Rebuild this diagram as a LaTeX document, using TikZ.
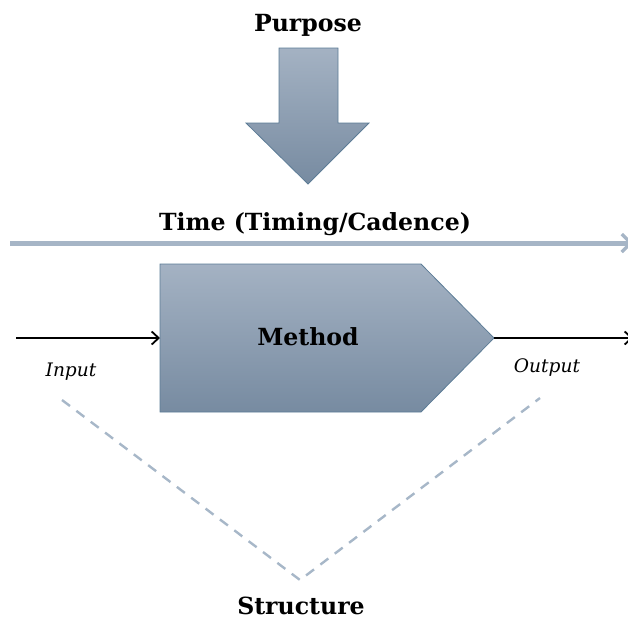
\documentclass[tikz,border=0pt]{standalone}
\usepackage{fontspec}
\setmainfont{DejaVu Serif}
\usetikzlibrary{arrows.meta}
\definecolor{steeltop}{HTML}{A4B2C3}
\definecolor{steelbot}{HTML}{778BA1}
\definecolor{steeledge}{HTML}{5C7C96}
\definecolor{timeline}{HTML}{A6B5C6}
\definecolor{dashline}{HTML}{A7B7C8}
\tikzset{
  x=1pt, y=-1pt,
  title/.style={font=\bfseries\fontsize{23.6}{28}\selectfont, inner sep=0pt},
  flowlabel/.style={font=\itshape\fontsize{18.6}{22}\selectfont, inner sep=0pt},
  shapefill/.style={draw=steeledge, line width=0.8pt, top color=steeltop, bottom color=steelbot},
  flow/.style={line width=1.8pt, -{Straight Barb[length=7pt,width=13pt,line width=1.8pt]}},
}
\begin{document}
\begin{tikzpicture}
\useasboundingbox (0,0) rectangle (628,619);

% purpose arrow pointing down into the process
\node[title] (purpose) at (308,25) {Purpose};
\draw[shapefill] (279,48) -- (338,48) -- (338,123) -- (369,123) -- (308,184)
  -- (246,123) -- (279,123) -- cycle;

% time axis
\node[title] (time) at (315,224) {Time (Timing/Cadence)};
\coordinate (tstart) at (10,243);
\coordinate (tend) at (633,243);
\draw[line width=5pt, timeline, -{Straight Barb[length=9pt,width=18pt,line width=3.2pt]}] (tstart) -- (tend);

% the method block
\draw[shapefill] (160,264) -- (421,264) -- (494,338) -- (421,412) -- (160,412) -- cycle;
\coordinate (mleft) at (160,338);
\coordinate (mtip) at (494,338);
\node[title] (method) at (308,337) {Method};

% input and output flows
\coordinate (instart) at (16,338);
\coordinate (outend) at (633,338);
\draw[flow] (instart) -- (mleft);
\draw[flow] (mtip) -- (outend);
\node[flowlabel] (input) at (71,372) {Input};
\node[flowlabel] (output) at (547,368) {Output};

% structure underneath
\coordinate (sleft) at (62,400);
\coordinate (sbot) at (300,580);
\coordinate (sright) at (540,398);
\draw[dashline, line width=2.4pt, dash pattern=on 10pt off 8pt] (sleft) -- (sbot) -- (sright);
\node[title] (structure) at (301,606) {Structure};
\end{tikzpicture}
\end{document}
